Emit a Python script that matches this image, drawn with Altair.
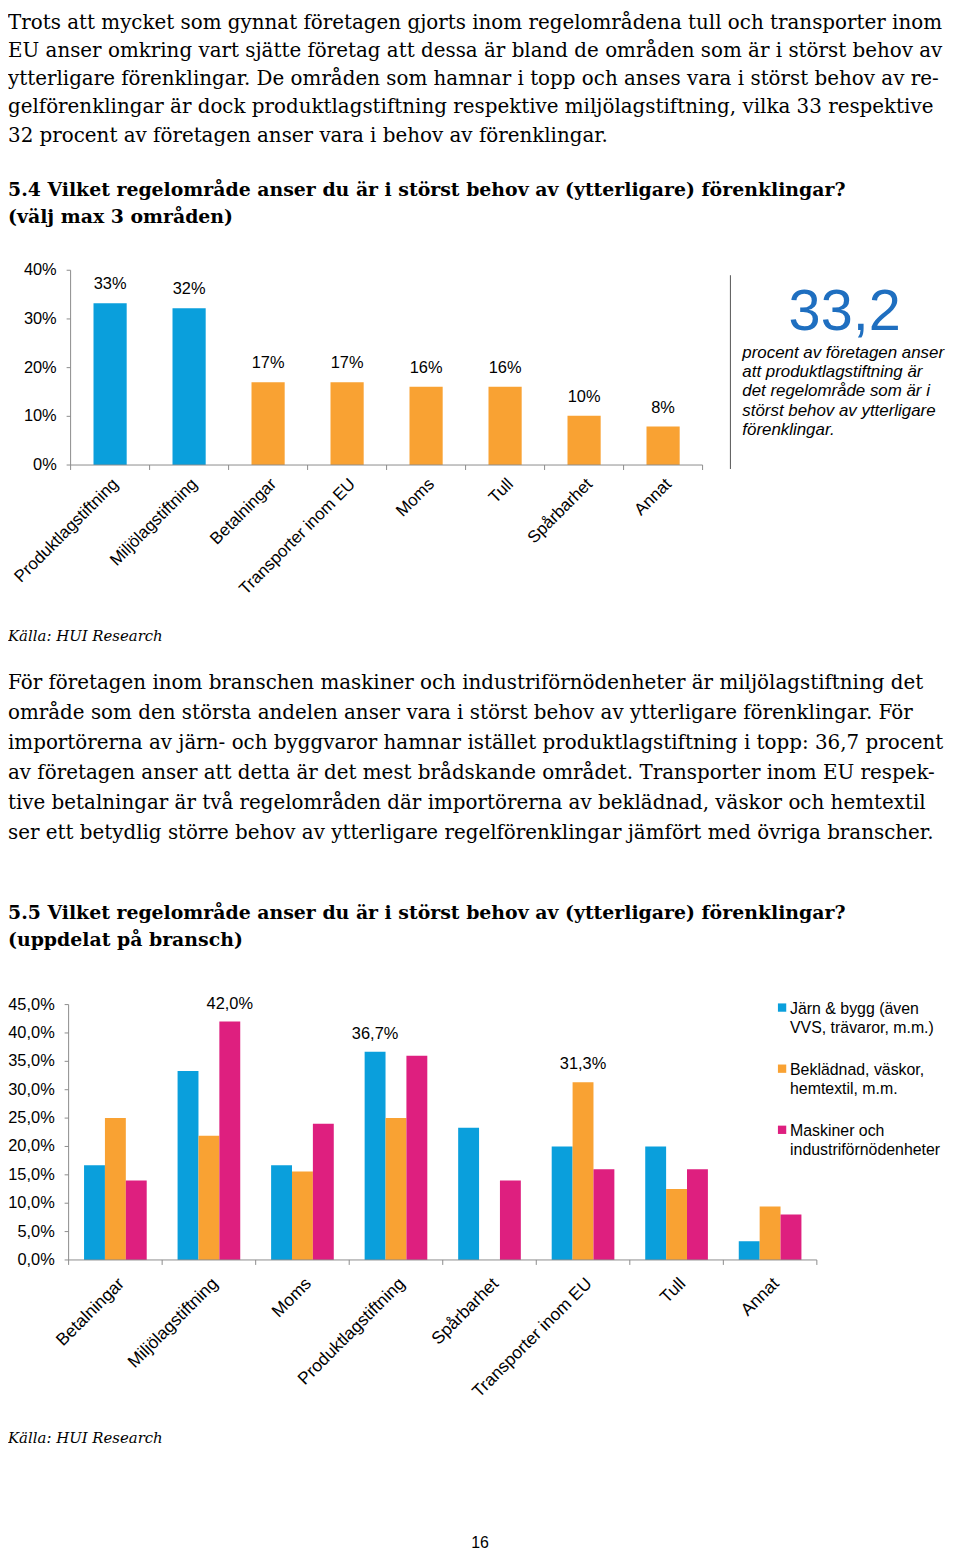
import altair as alt
import pandas as pd

# ---------------- data ----------------
stycke_1 = [
    "Trots att mycket som gynnat företagen gjorts inom regelområdena tull och transporter inom",
    "EU anser omkring vart sjätte företag att dessa är bland de områden som är i störst behov av",
    "ytterligare förenklingar. De områden som hamnar i topp och anses vara i störst behov av re-",
    "gelförenklingar är dock produktlagstiftning respektive miljölagstiftning, vilka 33 respektive",
    "32 procent av företagen anser vara i behov av förenklingar.",
]
rubrik_1 = [
    "5.4 Vilket regelområde anser du är i störst behov av (ytterligare) förenklingar?",
    "(välj max 3 områden)",
]
kalla = "Källa: HUI Research"
stycke_2 = [
    "För företagen inom branschen maskiner och industriförnödenheter är miljölagstiftning det",
    "område som den största andelen anser vara i störst behov av ytterligare förenklingar. För",
    "importörerna av järn- och byggvaror hamnar istället produktlagstiftning i topp: 36,7 procent",
    "av företagen anser att detta är det mest brådskande området. Transporter inom EU respek-",
    "tive betalningar är två regelområden där importörerna av beklädnad, väskor och hemtextil",
    "ser ett betydlig större behov av ytterligare regelförenklingar jämfört med övriga branscher.",
]
rubrik_2 = [
    "5.5  Vilket regelområde anser du är i störst behov av (ytterligare) förenklingar?",
    "(uppdelat på bransch)",
]
callout_text = [
    "procent av företagen anser",
    "att produktlagstiftning är",
    "det regelområde som är i",
    "störst behov av ytterligare",
    "förenklingar.",
]
sidnummer = "16"

omraden_1 = ["Produktlagstiftning", "Miljölagstiftning", "Betalningar", "Transporter inom EU",
             "Moms", "Tull", "Spårbarhet", "Annat"]
andel_1 = [33.2, 32.2, 17.0, 17.0, 16.1, 16.1, 10.1, 7.9]
yticks_1 = [0, 10, 20, 30, 40]

omraden_2 = ["Betalningar", "Miljölagstiftning", "Moms", "Produktlagstiftning", "Spårbarhet",
             "Transporter inom EU", "Tull", "Annat"]
serier_2 = ["Järn & bygg (även\nVVS, trävaror, m.m.)",
            "Beklädnad, väskor,\nhemtextil, m.m.",
            "Maskiner och\nindustriförnödenheter"]
jarn_bygg = [16.7, 33.3, 16.7, 36.7, 23.3, 20.0, 20.0, 3.3]
bekladnad = [25.0, 21.9, 15.6, 25.0, 0.0, 31.3, 12.5, 9.4]
maskiner = [14.0, 42.0, 24.0, 36.0, 14.0, 16.0, 16.0, 8.0]
yticks_2 = [0, 5, 10, 15, 20, 25, 30, 35, 40, 45]

# ---------------- style ----------------
OFF = 8  # page margin: canvas coords = page coords - 8
SANS = "Liberation Sans"
SERIF = "DejaVu Serif"
BLUE = "#0a9fdc"
ORANGE = "#f9a233"
PINK = "#de1f7f"
DARKBLUE = "#1f6fc0"
AXIS = "#8c8c8c"
LEFT = 8


def one():
    return pd.DataFrame({"k": [0]})


def text_block(lines, x, y, size, font, weight="normal", style="normal", lh=None,
               color="#000", align="left"):
    return alt.Chart(pd.DataFrame({"t": ["\n".join(lines)]})).mark_text(
        align=align, baseline="alphabetic", font=font, fontSize=size,
        fontWeight=weight, fontStyle=style, lineBreak="\n",
        lineHeight=lh if lh else size * 1.2, color=color,
    ).encode(x=alt.value(x - OFF), y=alt.value(y - OFF), text="t:N")


def vrule(x, y1, y2, color=AXIS):
    return alt.Chart(one()).mark_rule(color=color, strokeWidth=1).encode(
        x=alt.value(x - OFF), y=alt.value(y1 - OFF), y2=alt.value(y2 - OFF))


def hrule(x1, x2, y, color=AXIS):
    return alt.Chart(one()).mark_rule(color=color, strokeWidth=1).encode(
        x=alt.value(x1 - OFF), x2=alt.value(x2 - OFF), y=alt.value(y - OFF))


layers = []

# ---------------- text ----------------
layers.append(text_block(stycke_1, LEFT, 24, 20, SERIF, lh=28.4))
layers.append(text_block(rubrik_1, LEFT, 192, 19, SERIF, weight="bold", lh=27.5))
layers.append(text_block([kalla], LEFT, 640, 15, SERIF, style="italic"))
layers.append(text_block(stycke_2, LEFT, 688, 20, SERIF, lh=30.2))
layers.append(text_block(rubrik_2, LEFT, 920, 19, SERIF, weight="bold", lh=27.5))
layers.append(text_block([kalla], LEFT, 1447, 15, SERIF, style="italic"))
layers.append(text_block([sidnummer], 483, 1553, 16, SANS, align="center"))

# ---------------- chart 1 ----------------
c1_x0, c1_x1 = 71, 707
c1_y0, c1_y1 = 463, 267
X1 = alt.Scale(domain=omraden_1, range=[c1_x0 - OFF, c1_x1 - OFF], paddingInner=0.58, paddingOuter=0.29)
X1t = alt.Scale(domain=omraden_1, range=[c1_x0 - OFF, c1_x1 - OFF], paddingInner=0, paddingOuter=0)
Y1 = alt.Scale(domain=[0, 40], range=[c1_y0 - OFF, c1_y1 - OFF])
df1 = pd.DataFrame({"omrade": omraden_1, "andel": andel_1})

base1 = alt.Chart(df1).transform_window(
    rank="rank()", sort=[alt.SortField("andel", order="descending")])
layers.append(base1.mark_bar().encode(
    x=alt.X("omrade:N", scale=X1, axis=None),
    y=alt.Y("andel:Q", scale=Y1, axis=None),
    color=alt.condition("datum.rank <= 2", alt.value(BLUE), alt.value(ORANGE)),
))
layers.append(alt.Chart(df1).transform_calculate(
    lbl="format(datum.andel, '.0f') + '%'"
).mark_text(dy=-19, fontSize=16.5, font=SANS, baseline="middle").encode(
    x=alt.X("omrade:N", scale=X1, axis=None),
    y=alt.Y("andel:Q", scale=Y1, axis=None),
    text="lbl:N",
))
dft1 = pd.DataFrame({"v": yticks_1})
layers.append(alt.Chart(dft1).transform_calculate(lbl="datum.v + '%'").mark_text(
    align="right", baseline="middle", fontSize=16.5, font=SANS).encode(
    x=alt.value(57 - OFF), y=alt.Y("v:Q", scale=Y1, axis=None), text="lbl:N"))
layers.append(alt.Chart(dft1).mark_rule(color=AXIS).encode(
    x=alt.value(c1_x0 - 4 - OFF), x2=alt.value(c1_x0 - OFF), y=alt.Y("v:Q", scale=Y1, axis=None)))
layers.append(vrule(c1_x0, c1_y1, c1_y0 + 5))
layers.append(hrule(c1_x0, c1_x1, c1_y0))
layers.append(alt.Chart(df1).mark_rule(color=AXIS).encode(
    x=alt.X("omrade:N", scale=X1t, axis=None, bandPosition=1),
    y=alt.value(c1_y0 - OFF), y2=alt.value(c1_y0 + 5 - OFF)))
layers.append(alt.Chart(df1).mark_text(
    angle=315, align="right", baseline="top", fontSize=17, font=SANS).encode(
    x=alt.X("omrade:N", scale=X1, axis=None, bandPosition=0.3),
    y=alt.value(474 - OFF), text="omrade:N"))

# callout
layers.append(vrule(735, 272, 467, color="#555555"))
layers.append(alt.Chart(df1).transform_aggregate(m="max(andel)").transform_calculate(
    t="replace(format(datum.m, '.1f'), '.', ',')").mark_text(
    font=SANS, fontSize=58, color=DARKBLUE, align="center", baseline="alphabetic").encode(
    x=alt.value(850 - OFF), y=alt.value(327 - OFF), text="t:N"))
layers.append(text_block(callout_text, 747, 355, 17, SANS, style="italic", lh=19.5))

# ---------------- chart 2 ----------------
c2_x0, c2_x1 = 69, 822
c2_y0, c2_y1 = 1263, 1006
df2 = pd.DataFrame({
    "omrade": omraden_2 * 3,
    "serie": [s for s in serier_2 for _ in omraden_2],
    "andel": jarn_bygg + bekladnad + maskiner,
})
X2 = alt.Scale(domain=omraden_2, range=[c2_x0 - OFF, c2_x1 - OFF], paddingInner=0.33, paddingOuter=0.165)
X2t = alt.Scale(domain=omraden_2, range=[c2_x0 - OFF, c2_x1 - OFF], paddingInner=0, paddingOuter=0)
XO2 = alt.Scale(domain=serier_2, paddingInner=0, paddingOuter=0)
XO2p = alt.Scale(type="point", domain=serier_2, padding=0.5)
Y2 = alt.Scale(domain=[0, 45], range=[c2_y0 - OFF, c2_y1 - OFF])
C2 = alt.Scale(domain=serier_2, range=[BLUE, ORANGE, PINK])

layers.append(alt.Chart(df2).mark_bar().encode(
    x=alt.X("omrade:N", scale=X2, axis=None),
    xOffset=alt.XOffset("serie:N", scale=XO2),
    y=alt.Y("andel:Q", scale=Y2, axis=None),
    color=alt.Color("serie:N", scale=C2, legend=None),
))
layers.append(alt.Chart(df2).transform_joinaggregate(
    mx="max(andel)", groupby=["serie"]
).transform_filter("datum.andel == datum.mx").transform_calculate(
    lbl="replace(format(datum.andel, '.1f'), '.', ',') + '%'"
).mark_text(dy=-18, fontSize=16.5, font=SANS, baseline="middle").encode(
    x=alt.X("omrade:N", scale=X2, axis=None),
    xOffset=alt.XOffset("serie:N", scale=XO2p),
    y=alt.Y("andel:Q", scale=Y2, axis=None),
    text="lbl:N",
))
dft2 = pd.DataFrame({"v": yticks_2})
layers.append(alt.Chart(dft2).transform_calculate(
    lbl="replace(format(datum.v, '.1f'), '.', ',') + '%'").mark_text(
    align="right", baseline="middle", fontSize=16.5, font=SANS).encode(
    x=alt.value(55 - OFF), y=alt.Y("v:Q", scale=Y2, axis=None), text="lbl:N"))
layers.append(alt.Chart(dft2).mark_rule(color=AXIS).encode(
    x=alt.value(c2_x0 - 4 - OFF), x2=alt.value(c2_x0 - OFF), y=alt.Y("v:Q", scale=Y2, axis=None)))
layers.append(vrule(c2_x0, c2_y1, c2_y0 + 5))
layers.append(hrule(c2_x0, c2_x1, c2_y0))
layers.append(alt.Chart(pd.DataFrame({"omrade": omraden_2})).mark_rule(color=AXIS).encode(
    x=alt.X("omrade:N", scale=X2t, axis=None, bandPosition=1),
    y=alt.value(c2_y0 - OFF), y2=alt.value(c2_y0 + 5 - OFF)))
layers.append(alt.Chart(pd.DataFrame({"omrade": omraden_2})).mark_text(
    angle=315, align="right", baseline="top", fontSize=17.5, font=SANS).encode(
    x=alt.X("omrade:N", scale=X2, axis=None, bandPosition=0.4),
    y=alt.value(1278 - OFF), text="omrade:N"))

# legend
dfl = pd.DataFrame({"serie": serier_2})
LY = alt.Scale(domain=serier_2, type="point", padding=0, range=[1009 - OFF, 1132 - OFF])
layers.append(alt.Chart(dfl).mark_square(size=70, opacity=1).encode(
    x=alt.value(787 - OFF), y=alt.Y("serie:N", scale=LY, axis=None),
    color=alt.Color("serie:N", scale=C2, legend=None)))
layers.append(alt.Chart(dfl).mark_text(
    align="left", baseline="alphabetic", dy=6, lineBreak="\n", lineHeight=19.5,
    fontSize=16, font=SANS).encode(
    x=alt.value(795 - OFF), y=alt.Y("serie:N", scale=LY, axis=None), text="serie:N"))

chart = alt.layer(*layers).resolve_scale(
    x="independent", y="independent", color="independent", xOffset="independent"
).properties(
    width=950, height=1550, padding=0,
    autosize=alt.AutoSizeParams(type="none"), background="white",
).configure_view(stroke=None)

chart.save("out.html", embed_options={"renderer": "svg", "actions": False})
